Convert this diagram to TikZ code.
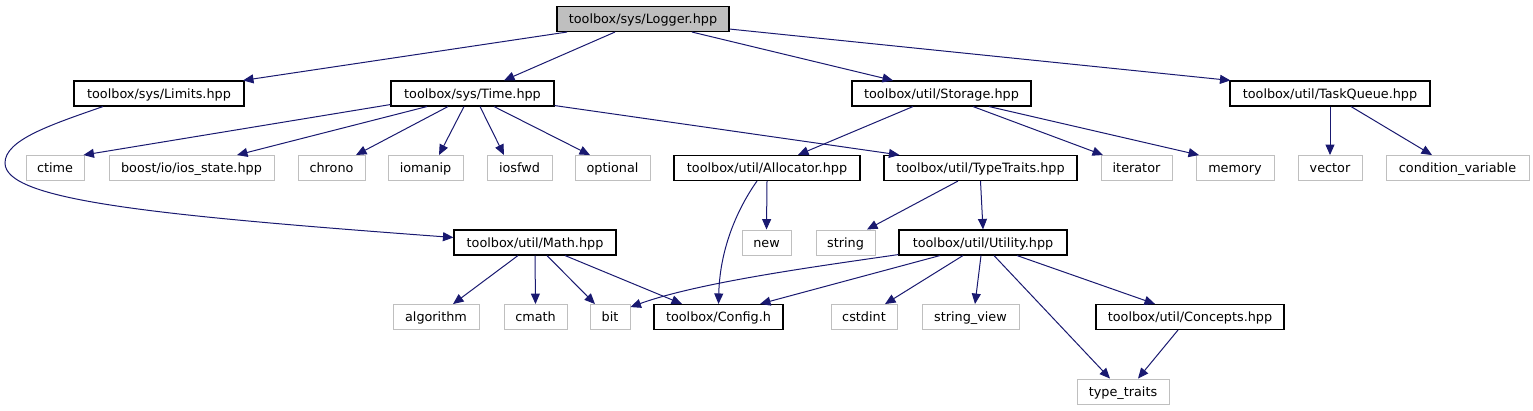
\documentclass[tikz,border=0pt]{standalone}
\usepackage{fontspec}
\setmainfont{DejaVu Sans}
\usetikzlibrary{positioning,arrows.meta}
\definecolor{edgeblue}{HTML}{191970}
\definecolor{boxgray}{HTML}{BFBFBF}

\begin{document}
\begin{tikzpicture}[
  x=1pt, y=-1pt,
  file/.style={
    draw=black, line width=1.1pt, fill=white,
    minimum width=#1, minimum height=25pt,
    inner sep=0pt, text height=9.8pt, text depth=0.4pt,
    font=\fontsize{12.8pt}{15pt}\selectfont
  },
  sysfile/.style={file=#1, draw=boxgray, line width=0.9pt}, % system headers
  rootfile/.style={file=#1, fill=boxgray},
  dep/.style={draw=edgeblue, line width=1pt, -{Triangle[length=10.5pt,width=9pt]}}
]
\useasboundingbox (0,0) rectangle (1533,411);

% --- Root ---
\node[rootfile=172] (logger) at (643,19) {toolbox/sys/Logger.hpp};

% --- Level 1 ---
\node[file=170] (limits)    at (159,93.5)    {toolbox/sys/Limits.hpp};
\node[file=163] (time)      at (472.5,93.5)  {toolbox/sys/Time.hpp};
\node[file=179] (storage)   at (941.5,93.5)  {toolbox/util/Storage.hpp};
\node[file=200] (taskqueue) at (1330,93.5)   {toolbox/util/TaskQueue.hpp};

% --- Level 2 ---
\node[sysfile=58]  (ctime)      at (55,168)     {ctime};
\node[sysfile=165] (iosstate)   at (191.5,168)  {boost/io/ios\_state.hpp};
\node[sysfile=67]  (chrono)     at (331.5,168)  {chrono};
\node[sysfile=75]  (iomanip)    at (425.5,168)  {iomanip};
\node[sysfile=65]  (iosfwd)     at (519.5,168)  {iosfwd};
\node[sysfile=75]  (optional)   at (612.5,168)  {optional};
\node[file=186]    (allocator)  at (767,168)    {toolbox/util/Allocator.hpp};
\node[file=193]    (typetraits) at (980.5,168)  {toolbox/util/TypeTraits.hpp};
\node[sysfile=71]  (iterator)   at (1136.5,168) {iterator};
\node[sysfile=78]  (memory)     at (1235,168)   {memory};
\node[sysfile=64]  (vector)     at (1330,168)   {vector};
\node[sysfile=143] (condvar)    at (1457.5,168) {condition\_variable};

% --- Level 3 ---
\node[file=162]   (math)    at (535,242.5)   {toolbox/util/Math.hpp};
\node[sysfile=49] (new)     at (766.5,242.5) {new};
\node[sysfile=59] (string)  at (845.5,242.5) {string};
\node[file=168]   (utility) at (983,242.5)   {toolbox/util/Utility.hpp};

% --- Level 4 ---
\node[sysfile=86] (algorithm)  at (436,317)    {algorithm};
\node[sysfile=63] (cmath)      at (535.5,317)  {cmath};
\node[sysfile=40] (bit)        at (610,317)    {bit};
\node[file=129]   (config)     at (718.5,317)  {toolbox/Config.h};
\node[sysfile=66] (cstdint)    at (864,317)    {cstdint};
\node[sysfile=97] (stringview) at (970.5,317)  {string\_view};
\node[file=188]   (concepts)   at (1190,317)   {toolbox/util/Concepts.hpp};

% --- Level 5 ---
\node[sysfile=92] (stdtraits) at (1123,391.5) {type\_traits};

% --- Edges from the root ---
\draw[dep] ([xshift=-76]logger.south) -- ([xshift=84]limits.north);
\draw[dep] ([xshift=-28]logger.south) -- ([xshift=31.5]time.north);
\draw[dep] ([xshift=49]logger.south) -- ([xshift=-48.5]storage.north);
\draw[dep] ([yshift=3]logger.south east) -- ([xshift=1]taskqueue.north west);

% --- Limits ---
\draw[dep] ([xshift=-56]limits.south) .. controls (50,125) and (5,140) .. (5,163)
  .. controls (5,200) and (150,215) .. ([yshift=5]math.west);

% --- Time ---
\draw[dep] ([yshift=2]time.south west) -- ([xshift=-1]ctime.north east);
\draw[dep] ([xshift=-45.5]time.south) -- ([xshift=45.5]iosstate.north);
\draw[dep] ([xshift=-24.5]time.south) -- ([xshift=24.5]chrono.north);
\draw[dep] ([xshift=-8.5]time.south) -- ([xshift=13.5]iomanip.north);
\draw[dep] ([xshift=7.5]time.south) -- ([xshift=-15.5]iosfwd.north);
\draw[dep] ([xshift=21.5]time.south) -- ([xshift=-22.5]optional.north);
\draw[dep] ([yshift=1]time.south east) -- ([xshift=16]typetraits.north west);

% --- Storage ---
\draw[dep] ([xshift=-28.5]storage.south) -- ([xshift=31]allocator.north);
\draw[dep] ([xshift=31.5]storage.south) -- ([xshift=-33.5]iterator.north);
\draw[dep] ([xshift=47.5]storage.south) -- ([xshift=-36]memory.north);

% --- TaskQueue ---
\draw[dep] (taskqueue.south) -- (vector.north);
\draw[dep] ([xshift=21]taskqueue.south) -- ([xshift=-25.5]condvar.north);

% --- Allocator ---
\draw[dep] (allocator.south) -- (new.north);
\draw[dep] ([xshift=-10]allocator.south) .. controls (740,205) and (720,245) .. (config.north);

% --- TypeTraits ---
\draw[dep] ([xshift=-22.5]typetraits.south) -- ([xshift=21.5]string.north);
\draw[dep] (typetraits.south) -- (utility.north);

% --- Math ---
\draw[dep] ([xshift=-17]math.south) -- ([xshift=17]algorithm.north);
\draw[dep] (math.south) -- (cmath.north);
\draw[dep] ([xshift=12]math.south) -- ([xshift=-15]bit.north);
\draw[dep] ([xshift=30]math.south) -- ([xshift=-36.5]config.north);

% --- Utility ---
\draw[dep] ([yshift=1]utility.south west) .. controls (820,266) and (700,282) .. ([yshift=-3]bit.north east);
\draw[dep] ([xshift=-43]utility.south) -- ([xshift=41.5]config.north);
\draw[dep] ([xshift=-20]utility.south) -- ([xshift=21]cstdint.north);
\draw[dep] ([xshift=-2]utility.south) -- ([xshift=4.5]stringview.north);
\draw[dep] ([xshift=11]utility.south) -- ([xshift=-13]stdtraits.north);
\draw[dep] ([xshift=34]utility.south) -- ([xshift=-35]concepts.north);

% --- Concepts ---
\draw[dep] ([xshift=-12]concepts.south) -- ([xshift=15]stdtraits.north);
\end{tikzpicture}
\end{document}
